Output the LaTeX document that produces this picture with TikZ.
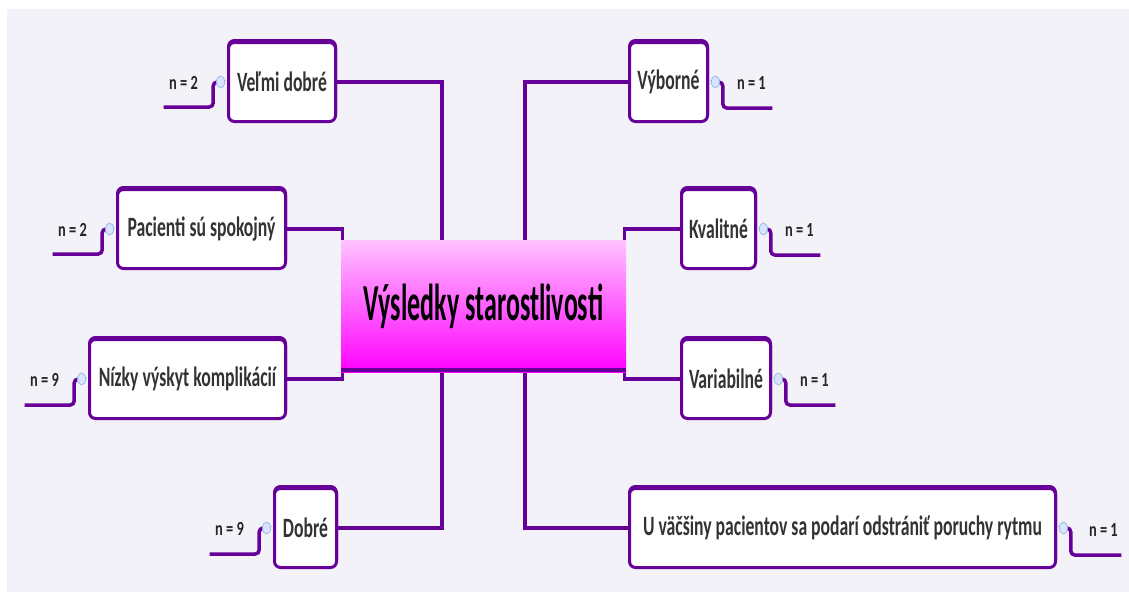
\documentclass[tikz,border=0pt]{standalone}
\usepackage{fontspec}
\newfontfamily\nodefont{Carlito}[FakeStretch=0.63]
\newfontfamily\rootfont{Carlito}[FakeStretch=0.5]
\newfontfamily\countfont{Carlito}[FakeStretch=0.72]
\usetikzlibrary{shapes.geometric, positioning, calc, backgrounds}
\definecolor{mapPurple}{RGB}{102,0,153}
\definecolor{mapBack}{RGB}{242,242,248}
\definecolor{knobBlue}{RGB}{214,228,255}
\definecolor{knobEdge}{RGB}{160,185,235}
\definecolor{rootTop}{RGB}{255,195,255}
\definecolor{textGray}{RGB}{51,51,51}

\begin{document}
\begin{tikzpicture}[
    x=1pt, y=-1pt,
    topic/.style={draw=mapPurple, line width=3pt, rounded corners=6pt, fill=white, minimum height=79pt, inner xsep=3pt, text=textGray, font=\nodefont\bfseries\fontsize{28}{30}\selectfont, preaction={draw=mapPurple, line width=3pt, transform canvas={yshift=2pt}}},
    root/.style={minimum width=285pt, minimum height=132pt, inner sep=0pt, top color=rootTop, bottom color=magenta, text=black, font=\rootfont\bfseries\fontsize{52}{56}\selectfont},
    knob/.style={ellipse, draw=knobEdge, fill=knobBlue, line width=0.8pt, minimum width=8pt, minimum height=12pt, inner sep=0pt},
    count/.style={inner sep=0pt, text=black!85, font=\countfont\bfseries\fontsize{20}{22}\selectfont},
    link/.style={draw=mapPurple, line width=3.5pt},
    tail/.style={draw=mapPurple, line width=3.5pt, rounded corners=4pt}
]
    \useasboundingbox (0,0) rectangle (1129,592);

    % Nodes
    \node[root] (root) at (483.5,306) {Výsledky starostlivosti};
    \draw[mapPurple, line width=4pt] ([yshift=2pt]root.south west) -- ([yshift=2pt]root.south east);

    \node[topic, minimum width=107pt] (velmi) at (282,82) {Veľmi dobré};
    \node[topic, minimum width=168pt] (pacienti) at (201.5,229) {Pacienti sú spokojný};
    \node[topic, minimum width=196pt] (nizky) at (187.5,379) {Nízky výskyt komplikácií};
    \node[topic, minimum width=62pt] (dobre) at (305.5,528) {Dobré};

    \node[topic, minimum width=78pt] (vyborne) at (668.5,82) {Výborné};
    \node[topic, minimum width=74pt] (kvalitne) at (718.5,229) {Kvalitné};
    \node[topic, minimum width=89pt] (variabilne) at (726,379) {Variabilné};
    \node[topic, minimum width=426pt] (vacsina) at (842.5,528) {U väčšiny pacientov sa podarí odstrániť poruchy rytmu};

    % Knobs and counts
    \node[knob, left=2pt of velmi] (kVelmi) {};
    \node[knob, left=2pt of pacienti] (kPacienti) {};
    \node[knob, left=2pt of nizky] (kNizky) {};
    \node[knob, left=2pt of dobre] (kDobre) {};
    \node[knob, right=2pt of vyborne] (kVyborne) {};
    \node[knob, right=2pt of kvalitne] (kKvalitne) {};
    \node[knob, right=2pt of variabilne] (kVariabilne) {};
    \node[knob, right=2pt of vacsina] (kVacsina) {};

    \node[count] (nVelmi) at ($(kVelmi)+(-37,1)$) {n = 2};
    \node[count] (nPacienti) at ($(kPacienti)+(-37,1)$) {n = 2};
    \node[count] (nNizky) at ($(kNizky)+(-37,1)$) {n = 9};
    \node[count] (nDobre) at ($(kDobre)+(-37,1)$) {n = 9};
    \node[count] (nVyborne) at ($(kVyborne)+(36,1)$) {n = 1};
    \node[count] (nKvalitne) at ($(kKvalitne)+(36,1)$) {n = 1};
    \node[count] (nVariabilne) at ($(kVariabilne)+(36,1)$) {n = 1};
    \node[count] (nVacsina) at ($(kVacsina)+(40,2)$) {n = 1};

    \coordinate (tVelmi) at ($(kVelmi)+(-57,25)$);
    \coordinate (tPacienti) at ($(kPacienti)+(-57,25)$);
    \coordinate (tNizky) at ($(kNizky)+(-57,26)$);
    \coordinate (tDobre) at ($(kDobre)+(-57,26)$);
    \coordinate (tVyborne) at ($(kVyborne)+(57,26)$);
    \coordinate (tKvalitne) at ($(kKvalitne)+(57,26)$);
    \coordinate (tVariabilne) at ($(kVariabilne)+(57,26)$);
    \coordinate (tVacsina) at ($(kVacsina)+(58,27)$);

    % Connections
    \begin{scope}[on background layer]
        \fill[mapBack] (7,9) rectangle (1129,592);
        \draw[link] (velmi.east) -| ([xshift=-41.5pt]root.north);
        \draw[link] (pacienti.east) -| ([xshift=1.5pt]root.north west);
        \draw[link] (nizky.east) -| ([xshift=1.5pt]root.south west);
        \draw[link] (dobre.east) -| ([xshift=-41.5pt]root.south);
        \draw[link] (vyborne.west) -| ([xshift=41.5pt]root.north);
        \draw[link] (kvalitne.west) -| ([xshift=-1.5pt]root.north east);
        \draw[link] (variabilne.west) -| ([xshift=-1.5pt]root.south east);
        \draw[link] (vacsina.west) -| ([xshift=41.5pt]root.south);

        \draw[tail] (kVelmi.west) -- ++(-3,0) |- (tVelmi);
        \draw[tail] (kPacienti.west) -- ++(-3,0) |- (tPacienti);
        \draw[tail] (kNizky.west) -- ++(-3,0) |- (tNizky);
        \draw[tail] (kDobre.west) -- ++(-3,0) |- (tDobre);
        \draw[tail] (kVyborne.east) -- ++(3,0) |- (tVyborne);
        \draw[tail] (kKvalitne.east) -- ++(3,0) |- (tKvalitne);
        \draw[tail] (kVariabilne.east) -- ++(3,0) |- (tVariabilne);
        \draw[tail] (kVacsina.east) -- ++(3,0) |- (tVacsina);
    \end{scope}
\end{tikzpicture}
\end{document}
